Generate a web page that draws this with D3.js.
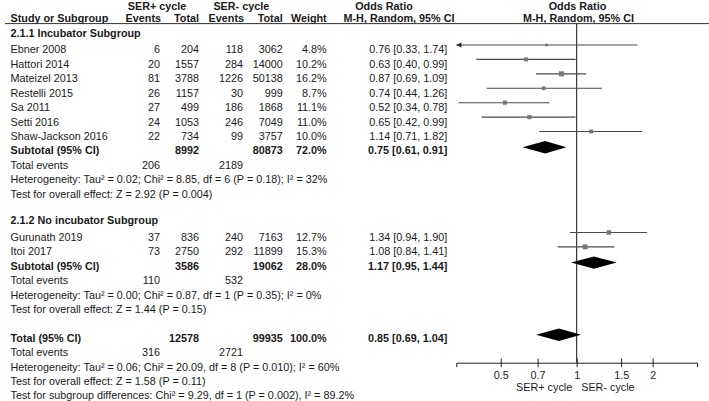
<!DOCTYPE html>
<html><head><meta charset="utf-8">
<script src="https://cdn.jsdelivr.net/npm/d3@7"></script>
<style>
html,body{margin:0;padding:0;background:#fff;}
svg{display:block;font-family:"Liberation Sans",Arial,sans-serif;}
</style></head>
<body><svg id="c" width="709" height="401"></svg>
<script>
// ---- data ----
const studies   = ["Ebner 2008","Hattori 2014","Mateizel 2013","Restelli 2015","Sa 2011","Setti 2016","Shaw-Jackson 2016","Gurunath 2019","Itoi 2017"];
const subgroup  = [1,1,1,1,1,1,1,2,2];
const evPlus    = [6,20,81,26,27,24,22,37,73];
const totPlus   = [204,1557,3788,1157,499,1053,734,836,2750];
const evMinus   = [118,284,1226,30,186,246,99,240,292];
const totMinus  = [3062,14000,50138,999,1868,7049,3757,7163,11899];
const weights   = [4.8,10.2,16.2,8.7,11.1,11.0,10.0,12.7,15.3];
const orVal     = [0.76,0.63,0.87,0.74,0.52,0.65,1.14,1.34,1.08];
const ciLow     = [0.33,0.40,0.69,0.44,0.34,0.42,0.71,0.94,0.84];
const ciHigh    = [1.74,0.99,1.09,1.26,0.78,0.99,1.82,1.90,1.41];

const groupNames   = ["2.1.1 Incubator Subgroup","2.1.2 No incubator Subgroup"];
const pooledLabels = ["Subtotal (95% CI)","Subtotal (95% CI)","Total (95% CI)"];
const pooledTotPlus  = [8992,3586,12578];
const pooledTotMinus = [80873,19062,99935];
const pooledWeight   = ["72.0%","28.0%","100.0%"];
const pooledOR   = [0.75,1.17,0.85];
const pooledLow  = [0.61,0.95,0.69];
const pooledHigh = [0.91,1.44,1.04];
const pooledEvPlus  = [206,110,316];
const pooledEvMinus = [2189,532,2721];
const hetText = [
  "Heterogeneity: Tau² = 0.02; Chi² = 8.85, df = 6 (P = 0.18); I² = 32%",
  "Heterogeneity: Tau² = 0.00; Chi² = 0.87, df = 1 (P = 0.35); I² = 0%",
  "Heterogeneity: Tau² = 0.06; Chi² = 20.09, df = 8 (P = 0.010); I² = 60%"];
const effectText = [
  "Test for overall effect: Z = 2.92 (P = 0.004)",
  "Test for overall effect: Z = 1.44 (P = 0.15)",
  "Test for overall effect: Z = 1.58 (P = 0.11)"];
const subgroupDiffText = "Test for subgroup differences: Chi² = 9.29, df = 1 (P = 0.002), I² = 89.2%";
const tickValues = [0.5,0.7,1,1.5,2];
const axisLabels = ["SER+ cycle","SER- cycle"];

// ---- layout ----
const svg = d3.select("#c");
const FS = 10.8;
const rowY = i => 49.5 + 14.42*i;
const base = 3.9;      // baseline offset from row centre
const markOff = -4.5;  // marks sit above text centre
const x = d3.scaleLog().domain([1/3, 3]).range([456.3, 697.1]);
const col = {ev1:160, tot1:199, ev2:243, tot2:282.7, w:326.7, ci:447.3, name:10.5};
const fmt2 = d3.format(".2f");
const ink = "#1a1a1a";

function txt(xp, yc, s, anchor, bold){
  svg.append("text").attr("x",xp).attr("y",yc+base)
    .attr("text-anchor",anchor||"start")
    .attr("font-size",FS).attr("fill",ink)
    .attr("font-weight",bold?"bold":"normal").text(s);
}

// headers
txt(157, 5.7, "SER+ cycle", "middle", true);
txt(241.3, 5.7, "SER- cycle", "middle", true);
txt(384, 5.7, "Odds Ratio", "middle", true);
txt(577.5, 5.7, "Odds Ratio", "middle", true);
txt(col.name, 18.3, "Study or Subgroup", "start", true);
txt(col.ev1+1, 18.3, "Events", "end", true);
txt(col.tot1, 18.3, "Total", "end", true);
txt(col.ev2+1, 18.3, "Events", "end", true);
txt(col.tot2, 18.3, "Total", "end", true);
txt(col.w, 18.3, "Weight", "end", true);
txt(399, 18.3, "M-H, Random, 95% CI", "middle", true);
txt(578.5, 18.3, "M-H, Random, 95% CI", "middle", true);
svg.append("line").attr("x1",5).attr("x2",709).attr("y1",23.6).attr("y2",23.6)
  .attr("stroke","#333").attr("stroke-width",1);

// vertical line of no effect
svg.append("line").attr("x1",x(1)).attr("x2",x(1)).attr("y1",24).attr("y2",362.7)
  .attr("stroke","#111").attr("stroke-width",1);

// row indices
const studyRow = [0,1,2,3,4,5,6,13,14];
const groupRow = [-1.15, 11.85];
const pooledRow = [7,15,20];

groupNames.forEach((g,k)=> txt(col.name, rowY(groupRow[k]), g, "start", true));

const [dmin,dmax] = x.domain();
studies.forEach((s,i)=>{
  const yc = rowY(studyRow[i]);
  txt(col.name, yc, s);
  txt(col.ev1, yc, evPlus[i], "end");
  txt(col.tot1, yc, totPlus[i], "end");
  txt(col.ev2, yc, evMinus[i], "end");
  txt(col.tot2, yc, totMinus[i], "end");
  txt(col.w, yc, weights[i].toFixed(1)+"%", "end");
  txt(col.ci, yc, `${fmt2(orVal[i])} [${fmt2(ciLow[i])}, ${fmt2(ciHigh[i])}]`, "end");
  const ym = yc + markOff;
  const lo = Math.max(ciLow[i], dmin), hi = Math.min(ciHigh[i], dmax);
  svg.append("line").attr("x1",x(lo)).attr("x2",x(hi)).attr("y1",ym).attr("y2",ym)
    .attr("stroke","#4a4a4a").attr("stroke-width",1.1);
  if (ciLow[i] < dmin){
    const ax = x(dmin);
    svg.append("path").attr("d",`M${ax},${ym} L${ax+5},${ym-2.5} L${ax+5},${ym+2.5} Z`)
      .attr("fill","#222");
  }
  const sz = 1.25*Math.sqrt(weights[i]);
  svg.append("rect").attr("x",x(orVal[i])-sz/2).attr("y",ym-sz/2)
    .attr("width",sz).attr("height",sz).attr("fill","#777");
});

pooledLabels.forEach((lab,k)=>{
  const r = pooledRow[k], yc = rowY(r);
  txt(col.name, yc, lab, "start", true);
  txt(col.tot1, yc, pooledTotPlus[k], "end", true);
  txt(col.tot2, yc, pooledTotMinus[k], "end", true);
  txt(col.w, yc, pooledWeight[k], "end", true);
  txt(col.ci, yc, `${fmt2(pooledOR[k])} [${fmt2(pooledLow[k])}, ${fmt2(pooledHigh[k])}]`, "end", true);
  const ym = yc - 3.2, h = 6.2;
  svg.append("path").attr("d",
    `M${x(pooledLow[k])},${ym} L${x(pooledOR[k])},${ym-h} L${x(pooledHigh[k])},${ym} L${x(pooledOR[k])},${ym+h} Z`)
    .attr("fill","#000");
  const ye = rowY(r+1);
  txt(col.name, ye, "Total events");
  txt(col.ev1, ye, pooledEvPlus[k], "end");
  txt(col.ev2, ye, pooledEvMinus[k], "end");
  txt(col.name, rowY(r+2), hetText[k]);
  txt(col.name, rowY(r+3), effectText[k]);
});
txt(col.name, rowY(24), subgroupDiffText);

// axis
const axisY = 362.7;
const ag = svg.append("g").attr("transform",`translate(0,${axisY})`)
  .call(d3.axisBottom(x).tickValues(tickValues).tickFormat(d=>String(d)).tickSizeOuter(0).tickSize(4.5));
ag.select(".domain").attr("stroke","#222");
ag.selectAll(".tick line").attr("y1",-4.2).attr("y2",4.5).attr("stroke","#222");
ag.selectAll(".tick text").attr("y",12.3+base).attr("dy",0)
  .attr("font-size",FS).attr("fill",ink).attr("font-family","Liberation Sans, Arial, sans-serif");
txt(x(1)-4.5, 387.3, axisLabels[0], "end");
txt(x(1)+4.5, 387.3, axisLabels[1], "start");
</script></body></html>
